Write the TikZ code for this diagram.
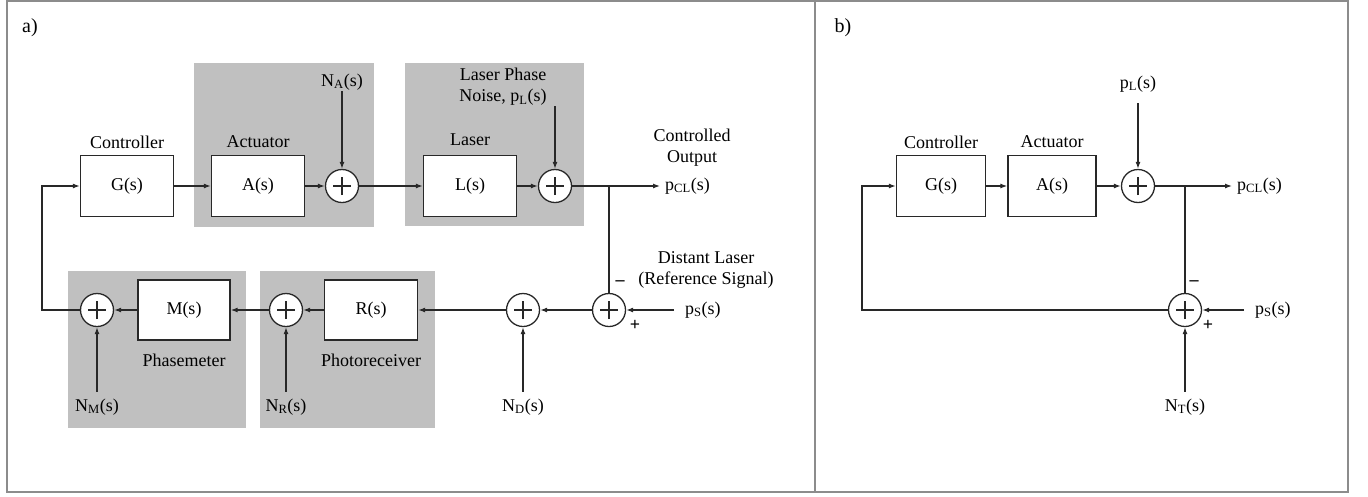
\documentclass[tikz,border=0pt]{standalone}
\usepackage{fontspec}
\setmainfont{Liberation Serif}
\usetikzlibrary{arrows.meta}
\definecolor{greyfill}{RGB}{192,192,192}
\definecolor{ink}{RGB}{40,40,40}
\definecolor{framec}{RGB}{140,140,140}
\tikzset{
  lab/.style={font=\fontsize{18}{21}\selectfont, inner sep=1pt, text=black, align=center},
  blk/.style={draw=ink, fill=white, line width=1.3pt, minimum width=93pt, minimum height=61pt, inner sep=0pt, font=\fontsize{18}{21}\selectfont},
  sumc/.style={circle, draw=ink, fill=white, line width=1.3pt, minimum size=33pt, inner sep=0pt,
    path picture={\draw[ink, line width=1.4pt]
      ([xshift=-9pt]path picture bounding box.center) -- ([xshift=9pt]path picture bounding box.center)
      ([yshift=-9pt]path picture bounding box.center) -- ([yshift=9pt]path picture bounding box.center);}},
  arr/.style={ink, line width=1.2pt, -{Latex[length=7pt,width=5pt]}},
  ln/.style={ink, line width=1.2pt},
  sgn/.style={font=\fontsize{18}{21}\selectfont\bfseries, inner sep=0pt}
}
\begin{document}
\begin{tikzpicture}[x=1pt, y=-1pt]
\useasboundingbox (0,0) rectangle (1368,496);
% frame
\draw[framec, line width=2pt] (7,1) rectangle (1348,492);
\draw[framec, line width=2pt] (815,1) -- (815,492);

% ---------------- panel a ----------------
\node[lab, font=\fontsize{20}{22}\selectfont] (la) at (30,28) {a)};
% grey groups
\fill[greyfill] (194,63) rectangle (374,227);
\fill[greyfill] (405,63) rectangle (584,226);
\fill[greyfill] (260,271) rectangle (435,428);
\fill[greyfill] (68,271) rectangle (246,428);

\node[blk] (G) at (127,186) {G(s)};
\node[lab] (Gt) at (127,142) {Controller};
\node[blk] (A) at (258,186) {A(s)};
\node[lab] (At) at (258,142) {Actuator};
\node[sumc] (s1) at (342,186) {};
\node[lab] (NA) at (342,82) {N\textsubscript{A}(s)};
\node[blk] (L) at (470,186) {L(s)};
\node[lab] (Lt) at (470,140) {Laser};
\node[sumc] (s2) at (555,186) {};
\node[lab] (PN) at (503,87) {Laser Phase\\Noise, p\textsubscript{L}(s)};
\coordinate (pin) at (555,106);
\node[lab, anchor=west] (PCL) at (664,186) {p\textsubscript{CL}(s)};
\node[lab] (CO) at (692,148) {Controlled\\Output};
\coordinate (br) at (609,186);

\node[sumc] (s3) at (609,310) {};
\node[sgn] (m3) at (620,283) {–};
\node[sgn] (p3) at (635,325) {+};
\node[lab, anchor=west] (PS) at (684,310) {p\textsubscript{S}(s)};
\node[lab] (DL) at (706,270) {Distant Laser\\(Reference Signal)};
\node[sumc] (s4) at (523,310) {};
\node[lab] (ND) at (523,407) {N\textsubscript{D}(s)};
\node[blk, minimum height=60pt] (R) at (371,310) {R(s)};
\node[lab] (Rt) at (371,360) {Photoreceiver};
\node[sumc] (s5) at (286,310) {};
\node[lab] (NR) at (286,407) {N\textsubscript{R}(s)};
\node[blk, minimum height=60pt, minimum width=92pt] (M) at (184,310) {M(s)};
\node[lab] (Mt) at (184,360) {Phasemeter};
\node[sumc] (s6) at (97,310) {};
\node[lab] (NM) at (97,407) {N\textsubscript{M}(s)};
\coordinate (fb) at (42,310);

\draw[arr] (G.east) -- (A.west);
\draw[arr] (A.east) -- (s1.west);
\draw[arr] (NA.south) -- (s1.north);
\draw[arr] (s1.east) -- (L.west);
\draw[arr] (L.east) -- (s2.west);
\draw[arr] (pin) -- (s2.north);
\draw[arr] (s2.east) -- ([xshift=-4pt]PCL.west);
\draw[ln] (br) -- (s3.north);
\draw[arr] ([xshift=-10pt]PS.west) -- (s3.east);
\draw[arr] (s3.west) -- (s4.east);
\draw[arr] ([yshift=6pt]ND.north) -- (s4.south);
\draw[arr] (s4.west) -- (R.east);
\draw[arr] (R.west) -- (s5.east);
\draw[arr] ([yshift=6pt]NR.north) -- (s5.south);
\draw[arr] (s5.west) -- (M.east);
\draw[arr] (M.west) -- (s6.east);
\draw[arr] ([yshift=6pt]NM.north) -- (s6.south);
\draw[arr] (s6.west) -- (fb) |- (G.west);

% ---------------- panel b ----------------
\node[lab, font=\fontsize{20}{22}\selectfont] (lb) at (843,28) {b)};
\node[blk, minimum width=89pt] (Gb) at (941,186) {G(s)};
\node[lab] (Gbt) at (941,142) {Controller};
\node[blk, minimum width=88pt] (Ab) at (1052,186) {A(s)};
\node[lab] (Abt) at (1052,142) {Actuator};
\node[sumc] (b1) at (1138,186) {};
\node[lab] (PLb) at (1138,84) {p\textsubscript{L}(s)};
\node[lab, anchor=west] (PCLb) at (1236,186) {p\textsubscript{CL}(s)};
\coordinate (brb) at (1185,186);
\node[sumc] (b2) at (1185,310) {};
\node[sgn] (mb) at (1194,283) {–};
\node[sgn] (pb) at (1208,325) {+};
\node[lab, anchor=west] (PSb) at (1254,310) {p\textsubscript{S}(s)};
\node[lab] (NT) at (1185,407) {N\textsubscript{T}(s)};
\coordinate (fbb) at (862,310);

\draw[arr] (Gb.east) -- (Ab.west);
\draw[arr] (Ab.east) -- (b1.west);
\draw[arr] ([yshift=-10pt]PLb.south) -- (b1.north);
\draw[arr] (b1.east) -- ([xshift=-4pt]PCLb.west);
\draw[ln] (brb) -- (b2.north);
\draw[arr] ([xshift=-10pt]PSb.west) -- (b2.east);
\draw[arr] ([yshift=6pt]NT.north) -- (b2.south);
\draw[arr] (b2.west) -- (fbb) |- (Gb.west);
\end{tikzpicture}
\end{document}
